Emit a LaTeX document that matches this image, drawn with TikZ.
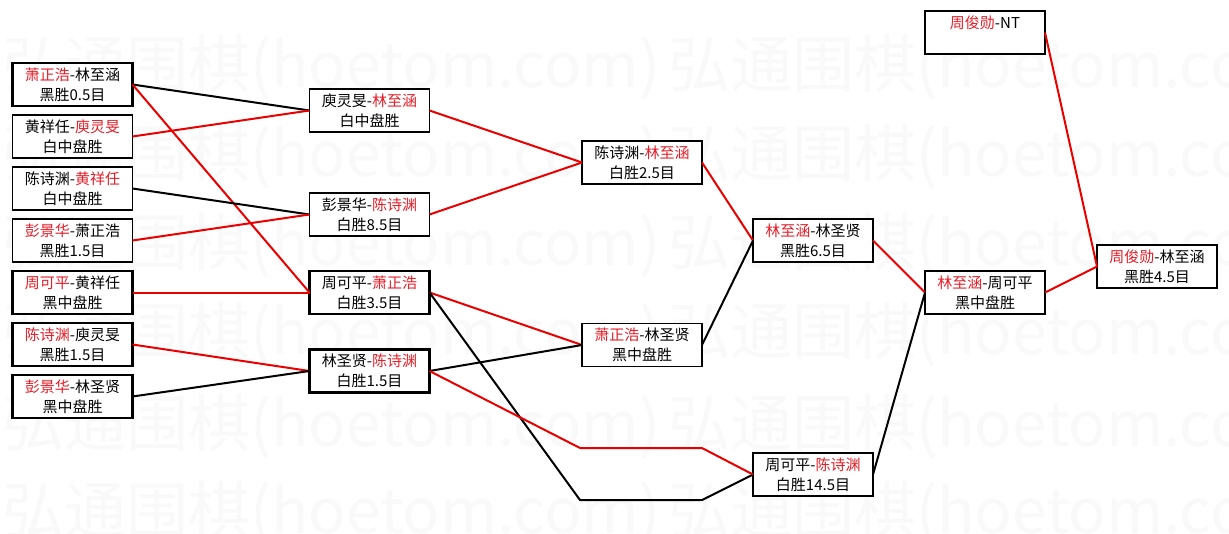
\documentclass[tikz,border=0pt]{standalone}
\usepackage{fontspec}
\setmainfont{Noto Sans CJK SC}
\definecolor{wr}{RGB}{235,0,0}
\definecolor{tr}{RGB}{230,30,40}
\newcommand\redtx[1]{\textcolor{tr}{#1}}
\begin{document}
\begin{tikzpicture}[x=1pt,y=-1pt,
  box/.style={draw,fill=white,line width=1.8pt,minimum width=120pt,minimum height=43pt,inner sep=0pt,outer sep=0pt,align=center,font=\fontsize{15}{20}\selectfont},
  tbox/.style={box,line width=2.8pt},
  win/.style={draw=wr,line width=2pt},
  lose/.style={draw=black,line width=2pt},
  wmark/.style={anchor=west,text=black!2.5,font=\fontsize{62}{62}\selectfont,inner sep=0pt}]
\useasboundingbox (0,0) rectangle (1229,533);
\fill[white] (0,0) rectangle (1229,533);
\begin{scope}
  \clip (0,0) rectangle (1229,533);
  \foreach \y in {68,157,246,335,427,514}{
    \foreach \x in {2,668}{
      \node[wmark] (wm\x-\y) at (\x,\y) {弘通围棋(hoetom.com)};
    }
  }
\end{scope}
% round 1
\node[tbox] (L1) at (72.5,84.5) {\redtx{萧正浩}-林至涵\\黑胜0.5目};
\node[box]  (L2) at (72.5,136.5) {黄祥任-\redtx{庾灵旻}\\白中盘胜};
\node[box]  (L3) at (72.5,188.5) {陈诗渊-\redtx{黄祥任}\\白中盘胜};
\node[box]  (L4) at (72.5,240.5) {\redtx{彭景华}-萧正浩\\黑胜1.5目};
\node[tbox] (L5) at (72.5,292.5) {\redtx{周可平}-黄祥任\\黑中盘胜};
\node[tbox] (L6) at (72.5,344.5) {\redtx{陈诗渊}-庾灵旻\\黑胜1.5目};
\node[tbox] (L7) at (72.5,396.5) {\redtx{彭景华}-林圣贤\\黑中盘胜};
% round 2
\node[box]  (C2a) at (369.5,110.5) {庾灵旻-\redtx{林至涵}\\白中盘胜};
\node[box]  (C2b) at (369.5,214.5) {彭景华-\redtx{陈诗渊}\\白胜8.5目};
\node[tbox] (C2c) at (369.5,292.5) {周可平-\redtx{萧正浩}\\白胜3.5目};
\node[tbox] (C2d) at (369.5,371) {林圣贤-\redtx{陈诗渊}\\白胜1.5目};
% round 3
\node[box] (C3a) at (642,162.5) {陈诗渊-\redtx{林至涵}\\白胜2.5目};
\node[box] (C3b) at (642,345) {\redtx{萧正浩}-林圣贤\\黑中盘胜};
% round 4
\node[box] (C4a) at (813,240.5) {\redtx{林至涵}-林圣贤\\黑胜6.5目};
\node[box] (C4b) at (813,474.5) {周可平-\redtx{陈诗渊}\\白胜14.5目};
% round 5
\node[box] (C5a) at (985,292.5) {\redtx{林至涵}-周可平\\黑中盘胜};
\node[box] (NT) at (985,32.5) {\redtx{周俊勋}-NT\\\phantom{黑}};
% final
\node[box] (C6) at (1157,266.5) {\redtx{周俊勋}-林至涵\\黑胜4.5目};
% connectors
\draw[lose] (L1.east) -- (C2a.west);
\draw[win]  (L1.east) -- (C2c.west);
\draw[win]  (L2.east) -- (C2a.west);
\draw[lose] (L3.east) -- (C2b.west);
\draw[win]  (L4.east) -- (C2b.west);
\draw[win]  (L5.east) -- (C2c.west);
\draw[win]  (L6.east) -- (C2d.west);
\draw[lose] (L7.east) -- (C2d.west);
\draw[win]  (C2a.east) -- (C3a.west);
\draw[win]  (C2b.east) -- (C3a.west);
\draw[win]  (C2c.east) -- (C3b.west);
\draw[lose] (C2d.east) -- (C3b.west);
\coordinate (b1) at (580,500);
\coordinate (b2) at (702,500);
\coordinate (r1) at (580,448);
\coordinate (r2) at (702,448);
\draw[lose] (C2c.east) -- (b1) -- (b2) -- (C4b.west);
\draw[win]  (C2d.east) -- (r1) -- (r2) -- (C4b.west);
\draw[win]  (C3a.east) -- (C4a.west);
\draw[lose] (C3b.east) -- (C4a.west);
\draw[win]  (C4a.east) -- (C5a.west);
\draw[lose] (C4b.east) -- (C5a.west);
\draw[win]  (C5a.east) -- (C6.west);
\draw[win]  (NT.east) -- (C6.west);
\end{tikzpicture}
\end{document}
